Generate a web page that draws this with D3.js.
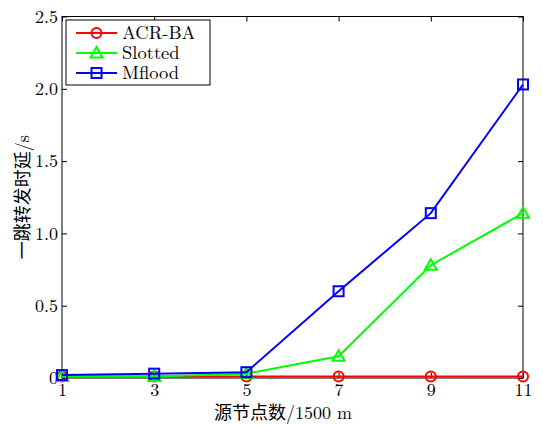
<!DOCTYPE html>
<html>
<head>
<meta charset="utf-8">
<script src="https://cdn.jsdelivr.net/npm/d3@7"></script>
<style>
body { margin: 0; background: #fff; }
svg { display: block; }
</style>
</head>
<body>
<svg width="543" height="425"></svg>
<script>
var xValues = [1, 3, 5, 7, 9, 11];
var yTicks = [0, 0.5, 1.0, 1.5, 2.0, 2.5];
var seriesNames = ["ACR-BA", "Slotted", "Mflood"];
var seriesColors = ["#ff0000", "#00ff00", "#0000ff"];
var seriesMarkers = ["circle", "triangle", "square"];
var acrba = [0.01, 0.01, 0.01, 0.01, 0.01, 0.01];
var slotted = [0.01, 0.01, 0.03, 0.15, 0.78, 1.14];
var mflood = [0.02, 0.03, 0.04, 0.60, 1.14, 2.03];
var seriesValues = [acrba, slotted, mflood];

var svg = d3.select("svg");
var serif = "Latin Modern Roman, Liberation Serif, serif";
var cjk = "Latin Modern Roman, Noto Sans CJK SC, serif";

var xScale = d3.scaleLinear().domain([1, 11]).range([62, 523]);
var yScale = d3.scaleLinear().domain([0, 2.5]).range([378, 16.5]);

// Axes box
svg.append("rect")
    .attr("x", xScale(1))
    .attr("y", yScale(2.5))
    .attr("width", xScale(11) - xScale(1))
    .attr("height", yScale(0) - yScale(2.5))
    .attr("fill", "none")
    .attr("stroke", "black")
    .attr("stroke-width", 1);

// Ticks (inside, all four sides)
var xAxisB = d3.axisBottom(xScale).tickValues(xValues).tickSizeInner(-5).tickSizeOuter(0).tickPadding(5);
var xAxisT = d3.axisTop(xScale).tickValues(xValues).tickSizeInner(-5).tickSizeOuter(0).tickFormat("");
var yAxisL = d3.axisLeft(yScale).tickValues(yTicks).tickSizeInner(-5).tickSizeOuter(0).tickPadding(4)
    .tickFormat(d => d === 0 ? "0" : d3.format(".1f")(d));
var yAxisR = d3.axisRight(yScale).tickValues(yTicks).tickSizeInner(-5).tickSizeOuter(0).tickFormat("");

function styleAxis(g) {
    g.select(".domain").remove();
    g.attr("font-family", serif).attr("font-size", 18);
    g.selectAll("line").attr("stroke", "black");
    g.selectAll("text").attr("fill", "black");
}

svg.append("g").attr("transform", `translate(0,${yScale(0)})`).call(xAxisB).call(styleAxis);
svg.append("g").attr("transform", `translate(0,${yScale(2.5)})`).call(xAxisT).call(styleAxis);
svg.append("g").attr("transform", `translate(${xScale(1)},0)`).call(yAxisL).call(styleAxis);
svg.append("g").attr("transform", `translate(${xScale(11)},0)`).call(yAxisR).call(styleAxis);

// Axis labels
svg.append("text")
    .attr("x", 283)
    .attr("y", 419)
    .attr("text-anchor", "middle")
    .attr("font-family", cjk)
    .attr("font-size", 18)
    .text("源节点数/1500 m");

svg.append("text")
    .attr("transform", `translate(29,${(yScale(0) + yScale(2.5)) / 2}) rotate(-90)`)
    .attr("text-anchor", "middle")
    .attr("font-family", cjk)
    .attr("font-size", 18)
    .text("一跳转发时延/s");

function drawMarker(g, type, color, x, y) {
    if (type === "circle") {
        g.append("circle").attr("cx", x).attr("cy", y).attr("r", 5)
            .attr("fill", "none").attr("stroke", color).attr("stroke-width", 2);
    } else if (type === "triangle") {
        g.append("path")
            .attr("d", `M${x},${y - 6}L${x + 6},${y + 4.5}L${x - 6},${y + 4.5}Z`)
            .attr("fill", "none").attr("stroke", color).attr("stroke-width", 2);
    } else {
        g.append("rect").attr("x", x - 5).attr("y", y - 5).attr("width", 10).attr("height", 10)
            .attr("fill", "none").attr("stroke", color).attr("stroke-width", 2);
    }
}

var line = d3.line()
    .x((d, i) => xScale(xValues[i]))
    .y(d => yScale(d));

seriesValues.forEach(function (vals, s) {
    var g = svg.append("g");
    g.append("path")
        .attr("d", line(vals))
        .attr("fill", "none")
        .attr("stroke", seriesColors[s])
        .attr("stroke-width", 2);
    vals.forEach(function (v, i) {
        drawMarker(g, seriesMarkers[s], seriesColors[s], xScale(xValues[i]), yScale(v));
    });
});

// Legend
var legend = svg.append("g");
legend.append("rect")
    .attr("x", 66).attr("y", 20).attr("width", 144).attr("height", 65)
    .attr("fill", "white").attr("stroke", "black").attr("stroke-width", 1);
seriesNames.forEach(function (name, s) {
    var y = 33 + s * 20;
    legend.append("line")
        .attr("x1", 76).attr("x2", 117).attr("y1", y).attr("y2", y)
        .attr("stroke", seriesColors[s]).attr("stroke-width", 2);
    drawMarker(legend, seriesMarkers[s], seriesColors[s], 96.5, y);
    legend.append("text")
        .attr("x", 122).attr("y", y + 6)
        .attr("font-family", serif)
        .attr("font-size", 18.5)
        .text(name);
});
</script>
</body>
</html>
